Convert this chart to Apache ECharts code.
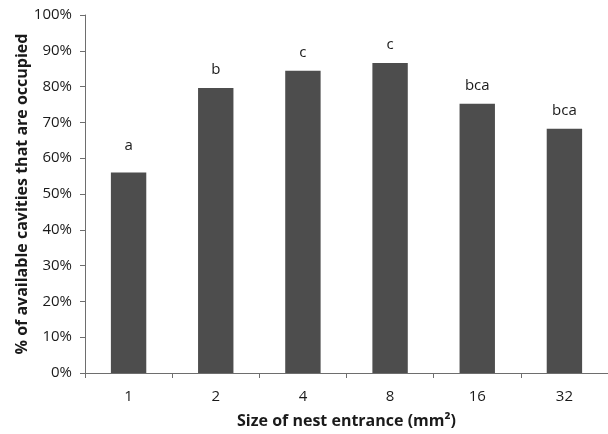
<!DOCTYPE html>
<html>
<head>
<meta charset="utf-8">
<script src="https://cdn.jsdelivr.net/npm/echarts@6/dist/echarts.min.js"></script>
<style>
html,body{margin:0;padding:0;background:#fff;}
#c{width:608px;height:434px;}
</style>
</head>
<body>
<div id="c"></div>
<script>
const categories = ['1', '2', '4', '8', '16', '32'];
const values = [56.0, 79.6, 84.4, 86.6, 75.2, 68.2];
const letters = ['a', 'b', 'c', 'c', 'bca', 'bca'];
const yTicks = [0, 10, 20, 30, 40, 50, 60, 70, 80, 90, 100];

const FONT = 'Open Sans';
const chart = echarts.init(document.getElementById('c'));
chart.setOption({
  animation: false,
  backgroundColor: '#fff',
  grid: { left: 85, width: 527, top: 15, height: 359, containLabel: false },
  xAxis: {
    type: 'category',
    data: categories,
    name: 'Size of nest entrance (mm²)',
    nameLocation: 'middle',
    nameGap: 40,
    nameTextStyle: { fontFamily: FONT, fontWeight: 'bold', fontSize: 16, color: '#1a1a1a' },
    axisLine: { lineStyle: { color: '#6e6e6e', width: 1 } },
    axisTick: { show: true, length: 5, lineStyle: { color: '#6e6e6e' } },
    axisLabel: { fontFamily: FONT, fontSize: 15, color: '#1a1a1a', margin: 16 }
  },
  yAxis: {
    type: 'value',
    min: yTicks[0],
    max: yTicks[yTicks.length - 1],
    interval: 10,
    name: '% of available cavities that are occupied',
    nameLocation: 'middle',
    nameGap: 55,
    nameMoveOverlap: false,
    nameTextStyle: { fontFamily: FONT, fontWeight: 'bold', fontSize: 16, color: '#1a1a1a' },
    axisLine: { show: true, lineStyle: { color: '#6e6e6e', width: 1 } },
    axisTick: { show: true, length: 5, lineStyle: { color: '#6e6e6e' } },
    splitLine: { show: false },
    axisLabel: { fontFamily: FONT, fontSize: 15, color: '#1a1a1a', margin: 13, formatter: v => v + '%' }
  },
  series: [{
    type: 'bar',
    data: values.map((v, i) => ({
      value: v,
      label: { distance: i === 0 ? 19 : 11 }
    })),
    barWidth: '40.6%',
    itemStyle: { color: '#4d4d4d' },
    label: {
      show: true,
      position: 'top',
      fontFamily: FONT,
      fontSize: 15,
      color: '#1a1a1a',
      formatter: p => letters[p.dataIndex]
    }
  }]
});
</script>
</body>
</html>
